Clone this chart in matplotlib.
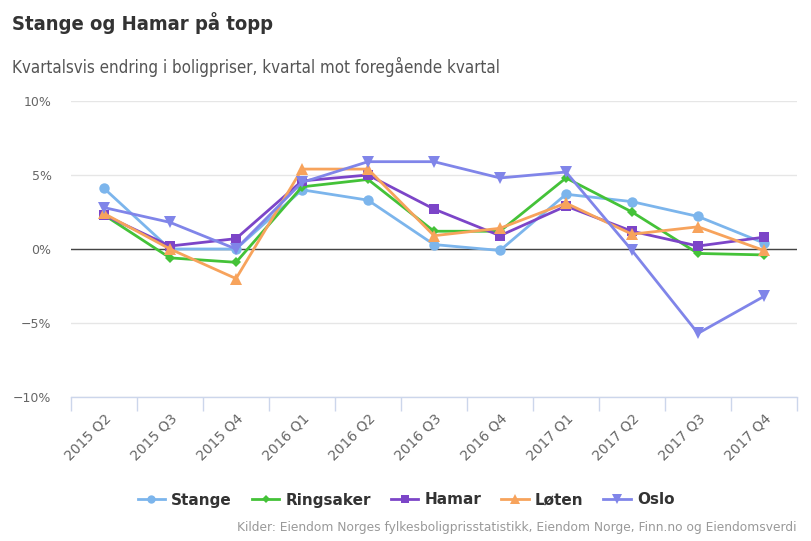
import matplotlib
matplotlib.use("Agg")
import matplotlib.pyplot as plt
from matplotlib.ticker import FixedLocator, FuncFormatter

categories = ["2015 Q2", "2015 Q3", "2015 Q4", "2016 Q1", "2016 Q2", "2016 Q3",
              "2016 Q4", "2017 Q1", "2017 Q2", "2017 Q3", "2017 Q4"]
stange = [4.1, 0.0, 0.0, 4.0, 3.3, 0.3, -0.1, 3.7, 3.2, 2.2, 0.4]
ringsaker = [2.3, -0.6, -0.9, 4.2, 4.7, 1.2, 1.2, 4.8, 2.5, -0.3, -0.4]
hamar = [2.3, 0.2, 0.7, 4.6, 5.0, 2.7, 0.9, 2.9, 1.2, 0.2, 0.8]
loten = [2.4, 0.0, -2.0, 5.4, 5.4, 0.9, 1.4, 3.1, 1.0, 1.5, -0.1]
oslo = [2.8, 1.8, 0.0, 4.5, 5.9, 5.9, 4.8, 5.2, -0.1, -5.7, -3.2]
y_ticks = [-10, -5, 0, 5, 10]

series = [
    ("Stange", stange, "#7cb5ec", "o", 7.5),
    ("Ringsaker", ringsaker, "#44c238", "D", 5),
    ("Hamar", hamar, "#7c45c8", "s", 7.5),
    ("Løten", loten, "#f7a35c", "^", 8.5),
    ("Oslo", oslo, "#8085e9", "v", 8.5),
]

fig = plt.figure(figsize=(8.12, 5.41), dpi=100)
ax = fig.add_axes([71/812, 1-397/541, (797-71)/812, (397-101)/541])

x = list(range(len(categories)))
for name, vals, col, mk, ms in series:
    ax.plot(x, vals, color=col, marker=mk, markersize=ms, linewidth=2.0,
            label=name, markeredgewidth=0, zorder=3)

ax.set_xlim(-0.5, len(categories) - 0.5)
ax.set_ylim(-10, 10)
ax.set_yticks(y_ticks)
ax.yaxis.set_major_formatter(FuncFormatter(lambda v, p: f"{int(v)}%".replace("-", "\u2212")))
ax.grid(axis="y", color="#e6e6e6", linewidth=1, zorder=0)
ax.axhline(0, color="#444444", linewidth=1, zorder=2)

ax.set_xticks(x)
ax.set_xticklabels(categories, rotation=45, ha="right", rotation_mode="anchor",
                   color="#666666", fontsize=10)
ax.xaxis.set_minor_locator(FixedLocator([i - 0.5 for i in range(len(categories) + 1)]))
ax.tick_params(axis="x", which="major", length=0, pad=10)
ax.tick_params(axis="x", which="minor", length=10, color="#ccd6eb", width=1)
ax.tick_params(axis="y", length=0, pad=14, labelcolor="#666666", labelsize=9)

for s in ["top", "right", "left"]:
    ax.spines[s].set_visible(False)
ax.spines["bottom"].set_color("#ccd6eb")
ax.spines["bottom"].set_linewidth(1)

fig.text(12/812, 1-23/541, "Stange og Hamar på topp", fontsize=14.5, fontweight="bold",
         fontstretch="condensed", color="#333333", va="center", ha="left")
fig.text(12/812, 1-67/541, "Kvartalsvis endring i boligpriser, kvartal mot foregående kvartal",
         fontsize=12.2, fontstretch="condensed", color="#555555", va="center", ha="left")

leg = fig.legend(loc="center", bbox_to_anchor=(406/812, 1-500/541), ncol=5, frameon=False,
                 prop={"weight": "bold", "size": 11}, handlelength=1.8,
                 columnspacing=1.3, handletextpad=0.4, markerscale=0.8)
for t in leg.get_texts():
    t.set_color("#333333")

fig.text(797/812, 1-527/541,
         "Kilder: Eiendom Norges fylkesboligprisstatistikk, Eiendom Norge, Finn.no og Eiendomsverdi",
         fontsize=8.8, color="#999999", ha="right", va="center")

fig.savefig("out.png", dpi=100)
